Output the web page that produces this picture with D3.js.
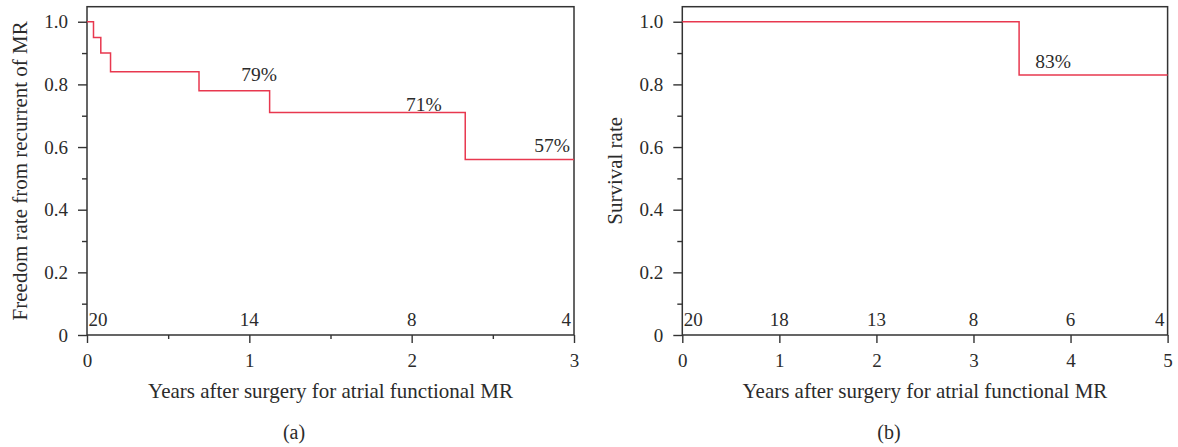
<!DOCTYPE html>
<html>
<head>
<meta charset="utf-8">
<script src="https://cdn.jsdelivr.net/npm/d3@7"></script>
<style>
  body { margin: 0; background: #fff; }
  svg text { font-family: "Liberation Serif", "DejaVu Serif", serif; fill: #2b2b2b; }
</style>
</head>
<body>
<svg id="chart" width="1178" height="447"></svg>
<script>
// panel (a): freedom from recurrent MR
var yearsA = [0, 0.04, 0.085, 0.145, 0.69, 1.125, 2.33, 3];
var rateA = [1.0, 0.95, 0.90, 0.84, 0.78, 0.71, 0.56, 0.56];
var riskYearsA = [0, 1, 2, 3];
var riskA = [20, 14, 8, 4];
var pctA = ['79%', '71%', '57%'];
var pctXA = [1.06, 2.075, 2.865];
var pctYA = [0.81, 0.714, 0.585];

// panel (b): survival
var yearsB = [0, 3.47, 5];
var rateB = [1.0, 0.83, 0.83];
var riskYearsB = [0, 1, 2, 3, 4, 5];
var riskB = [20, 18, 13, 8, 6, 4];
var pctB = ['83%'];
var pctXB = [3.82];
var pctYB = [0.853];

var yTicks = [0, 0.2, 0.4, 0.6, 0.8, 1.0];
var yMinor = [0.1, 0.3, 0.5, 0.7, 0.9];

var svg = d3.select('#chart');
var lineColor = '#e8384f';
var axisColor = '#333';

function panel(opts) {
    var height = 328.3;
    var width = opts.width;
    var g = svg.append('g').
	attr('transform', 'translate(' + opts.left + ',6.7)');

    var x = d3.scaleLinear().domain([0, opts.xmax]).range([0, width]);
    var y = d3.scaleLinear().domain([0, 1.048]).range([height, 0]);

    // minor ticks
    g.append('g').call(d3.axisLeft(y).tickValues(yMinor).tickSize(5).tickFormat(''));
    if (opts.xMinor.length)
	g.append('g').attr('transform', 'translate(0,' + height + ')').
	    call(d3.axisBottom(x).tickValues(opts.xMinor).tickSize(4).tickFormat(''));

    // y axis
    g.append('g').
	call(d3.axisLeft(y).tickValues(yTicks).tickSize(9).tickPadding(10).
	     tickFormat(function(d) { return d === 0 ? '0' : d3.format('.1f')(d); }));

    // x axis
    g.append('g').
	attr('transform', 'translate(0,' + height + ')').
	call(d3.axisBottom(x).ticks(opts.xmax).tickSize(8).tickPadding(10.5).tickFormat(d3.format('d')));

    g.selectAll('.domain').remove();
    g.selectAll('.tick line').attr('stroke', axisColor).attr('stroke-width', 1.4);
    g.selectAll('.tick text').style('font-size', '19px').attr('fill', '#2b2b2b');

    // frame
    g.append('rect').
	attr('width', width).attr('height', height).
	attr('fill', 'none').attr('stroke', axisColor).attr('stroke-width', 1.5);

    // curve
    var line = d3.line().
	x(function(d, i) { return x(opts.years[i]); }).
	y(function(d) { return y(d); }).
	curve(d3.curveStepAfter);
    g.append('path').
	datum(opts.rate).
	attr('d', line).
	attr('fill', 'none').attr('stroke', lineColor).attr('stroke-width', 1.5);

    // percentage labels
    g.selectAll('text.pct').
	data(opts.pct).
	enter().
	append('text').
	attr('class', 'pct').
	attr('x', function(d, i) { return x(opts.pctX[i]); }).
	attr('y', function(d, i) { return y(opts.pctY[i]); }).
	attr('text-anchor', 'middle').
	style('font-size', '19.5px').
	text(function(d) { return d; });

    // number at risk
    var n = opts.risk.length;
    g.selectAll('text.risk').
	data(opts.risk).
	enter().
	append('text').
	attr('class', 'risk').
	attr('x', function(d, i) { return x(opts.riskYears[i]) + (i === 0 ? 1.5 : (i === n - 1 ? -3 : 0)); }).
	attr('y', height - 8.5).
	attr('text-anchor', function(d, i) { return i === 0 ? 'start' : (i === n - 1 ? 'end' : 'middle'); }).
	style('font-size', '19px').
	text(function(d) { return d; });

    // axis titles
    g.append('text').
	attr('x', width / 2).attr('y', height + 63).
	attr('text-anchor', 'middle').
	style('font-size', '21px').
	text('Years after surgery for atrial functional MR');
    g.append('text').
	attr('transform', 'translate(-60,' + height / 2 + ')rotate(-90)').
	attr('text-anchor', 'middle').
	style('font-size', '21px').
	text(opts.yTitle);

    svg.append('text').
	attr('x', opts.captionX).attr('y', 439).
	attr('text-anchor', 'middle').
	style('font-size', '20px').
	text(opts.caption);
}

panel({left: 87, width: 487, xmax: 3, xMinor: [0.5, 1.5, 2.5],
       years: yearsA, rate: rateA, riskYears: riskYearsA, risk: riskA,
       pct: pctA, pctX: pctXA, pctY: pctYA,
       yTitle: 'Freedom rate from recurrent of MR', caption: '(a)', captionX: 294});

panel({left: 682.3, width: 485.3, xmax: 5, xMinor: [],
       years: yearsB, rate: rateB, riskYears: riskYearsB, risk: riskB,
       pct: pctB, pctX: pctXB, pctY: pctYB,
       yTitle: 'Survival rate', caption: '(b)', captionX: 889});
</script>
</body>
</html>
